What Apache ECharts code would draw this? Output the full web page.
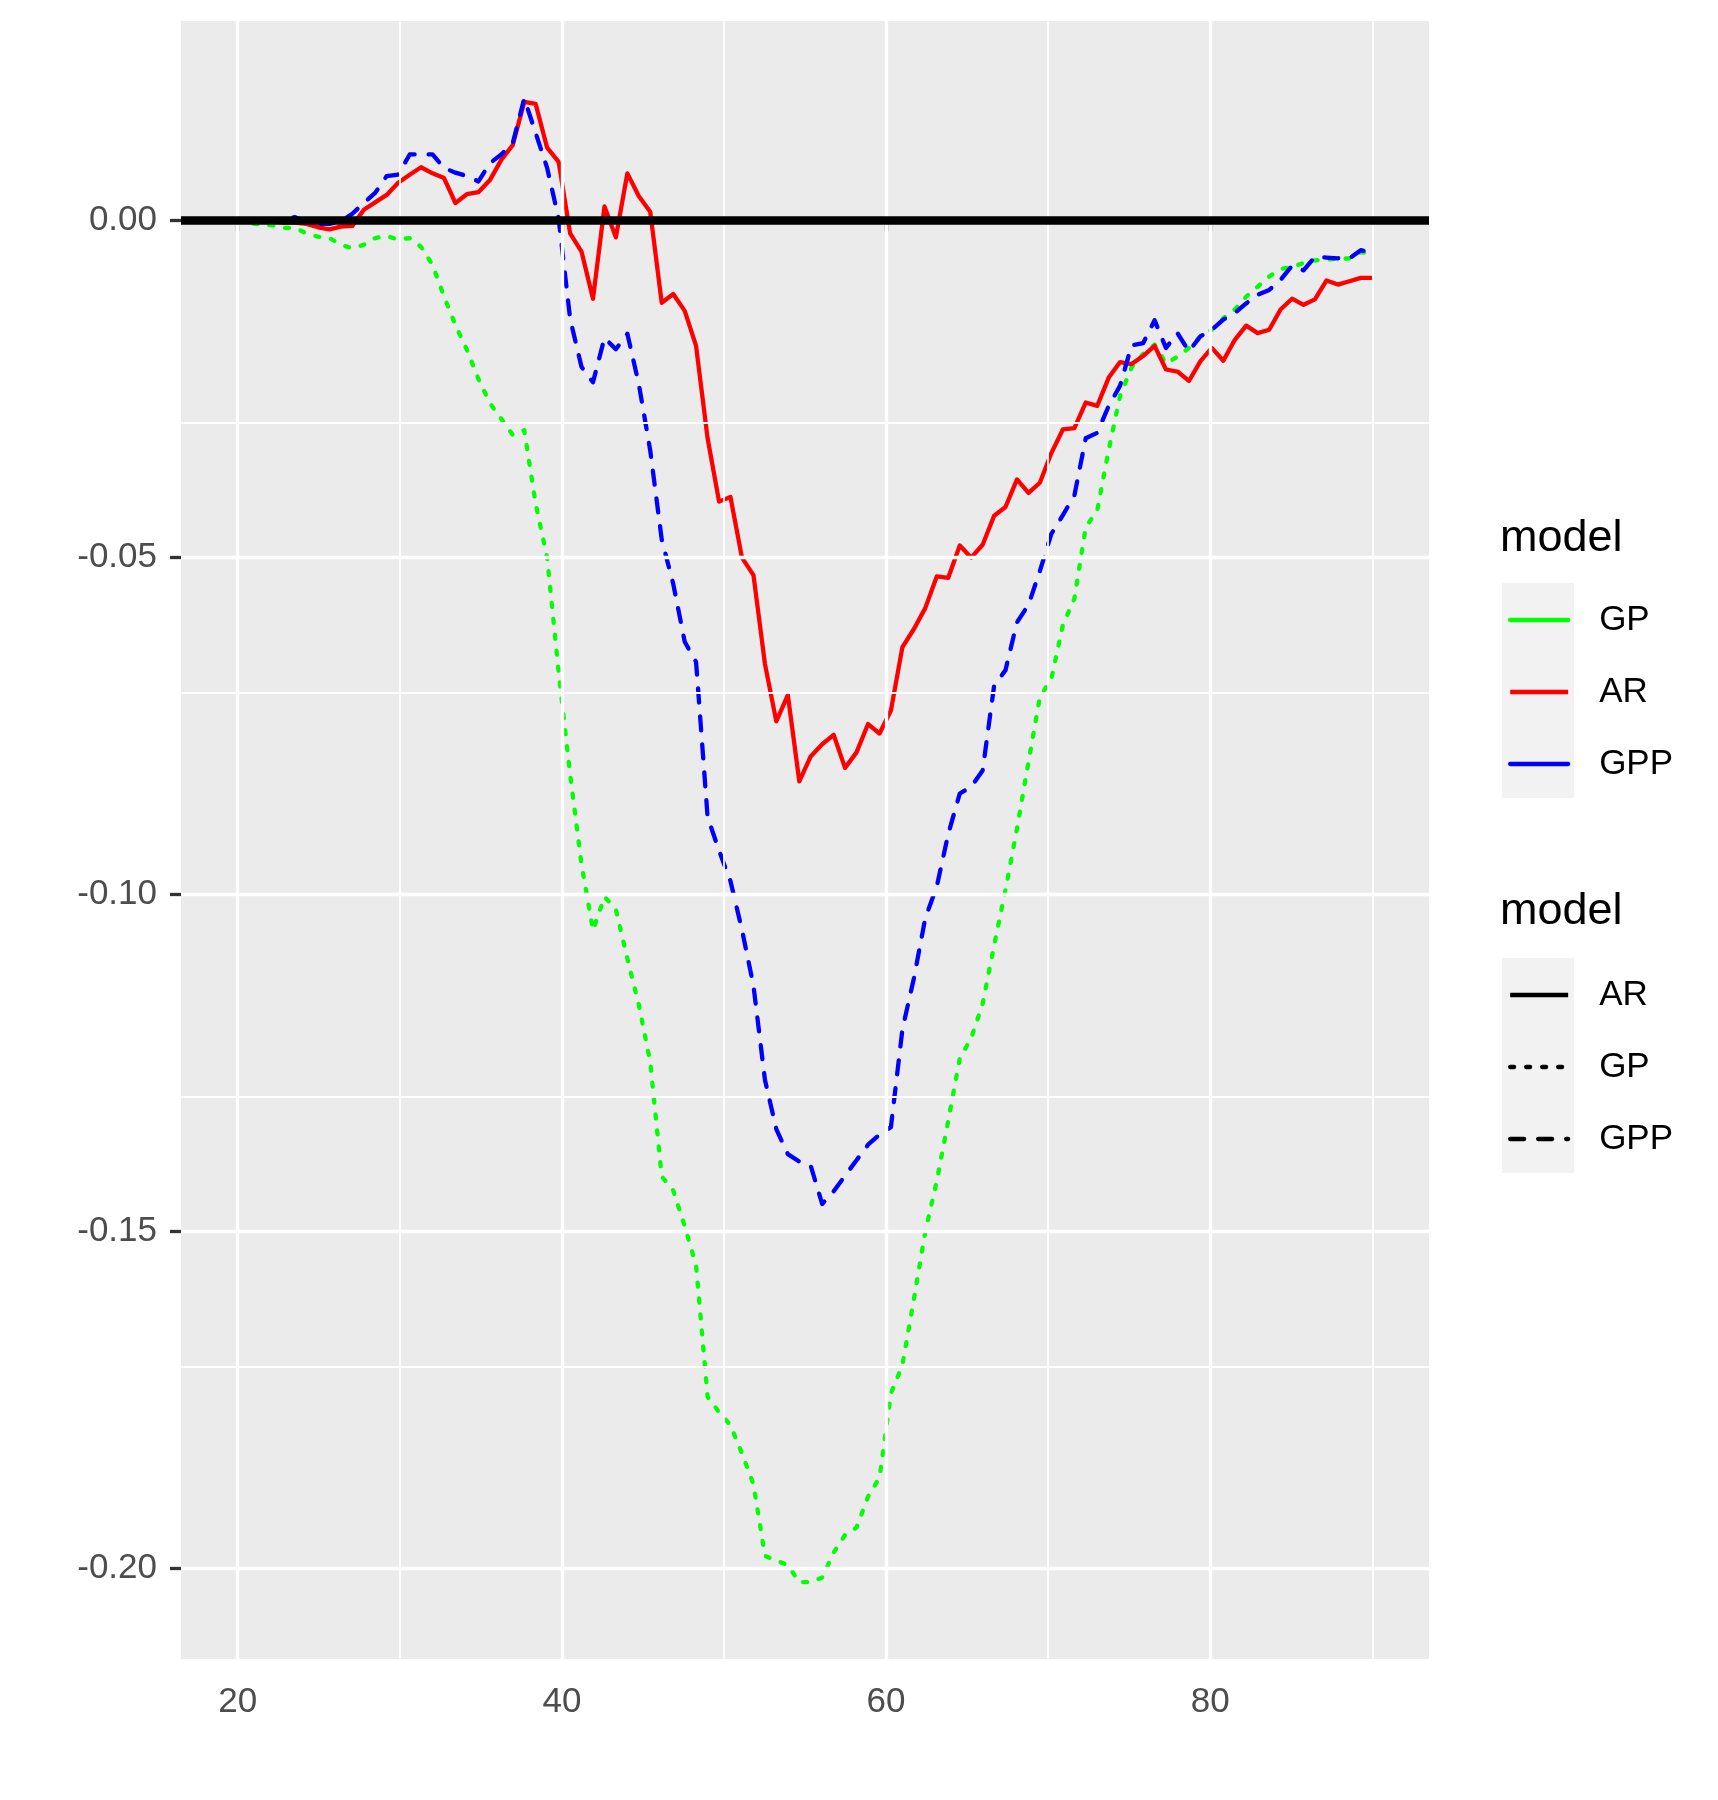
<!DOCTYPE html>
<html>
<head>
<meta charset="utf-8">
<script src="https://cdn.jsdelivr.net/npm/echarts@6.0.0/dist/echarts.min.js"></script>
<style>
  html, body { margin: 0; padding: 0; background: #fff; }
  #main { width: 1718px; height: 1800px; }
</style>
</head>
<body>
<div id="main"></div>
<script>
// age grid (100 points from 20 to 90)
var ages = [
  20.00, 20.71, 21.41, 22.12, 22.83, 23.54, 24.24, 24.95, 25.66, 26.36,
  27.07, 27.78, 28.48, 29.19, 29.90, 30.61, 31.31, 32.02, 32.73, 33.43,
  34.14, 34.85, 35.56, 36.26, 36.97, 37.68, 38.38, 39.09, 39.80, 40.51,
  41.21, 41.92, 42.63, 43.33, 44.04, 44.75, 45.45, 46.16, 46.87, 47.58,
  48.28, 48.99, 49.70, 50.40, 51.11, 51.82, 52.53, 53.23, 53.94, 54.65,
  55.35, 56.06, 56.77, 57.47, 58.18, 58.89, 59.60, 60.30, 61.01, 61.72,
  62.42, 63.13, 63.84, 64.55, 65.25, 65.96, 66.67, 67.37, 68.08, 68.79,
  69.49, 70.20, 70.91, 71.62, 72.32, 73.03, 73.74, 74.44, 75.15, 75.86,
  76.57, 77.27, 77.98, 78.69, 79.39, 80.10, 80.81, 81.52, 82.22, 82.93,
  83.64, 84.34, 85.05, 85.76, 86.46, 87.17, 87.88, 88.59, 89.29, 90.00
]

var gp = [
  0, -0.0004, -0.0006, -0.0007, -0.0011, -0.0011, -0.0019, -0.0024, -0.0026, -0.0036,
  -0.0041, -0.0036, -0.0026, -0.0023, -0.0028, -0.0026, -0.0039, -0.0066, -0.0113, -0.0155,
  -0.0192, -0.0235, -0.0271, -0.0294, -0.0318, -0.0311, -0.0420, -0.0500, -0.0670, -0.0822,
  -0.0955, -0.1053, -0.1003, -0.1022, -0.1095, -0.1164, -0.1248, -0.1418, -0.1439, -0.1492,
  -0.1550, -0.1745, -0.1768, -0.1787, -0.1829, -0.1875, -0.1981, -0.1988, -0.1995, -0.2020,
  -0.2020, -0.2013, -0.1976, -0.1950, -0.1939, -0.1893, -0.1865, -0.1740, -0.1698, -0.1600,
  -0.1500, -0.1425, -0.1335, -0.1243, -0.1213, -0.1162, -0.1075, -0.0993, -0.0902, -0.0803,
  -0.0707, -0.0680, -0.0600, -0.0561, -0.0455, -0.0430, -0.0340, -0.0260, -0.0218, -0.0198,
  -0.0184, -0.0212, -0.0202, -0.0189, -0.0172, -0.0162, -0.0145, -0.0132, -0.0113, -0.0098,
  -0.0083, -0.0072, -0.0069, -0.0063, -0.0059, -0.0058, -0.0057, -0.0056, -0.0047, -0.0049
]

var ar = [
  0, 0, -0.0001, -0.0001, -0.0003, -0.0003, -0.0005, -0.0010, -0.0013, -0.0009,
  -0.0008, 0.0016, 0.0027, 0.0038, 0.0056, 0.0068, 0.0079, 0.0070, 0.0063, 0.0026,
  0.0039, 0.0042, 0.0060, 0.0090, 0.0112, 0.0176, 0.0173, 0.0108, 0.0087, -0.0019,
  -0.0046, -0.0116, 0.0021, -0.0025, 0.0070, 0.0036, 0.0013, -0.0122, -0.0109, -0.0134,
  -0.0186, -0.0323, -0.0417, -0.0410, -0.0500, -0.0526, -0.0658, -0.0743, -0.0704, -0.0832,
  -0.0795, -0.0777, -0.0763, -0.0812, -0.0789, -0.0747, -0.0761, -0.0727, -0.0633, -0.0606,
  -0.0575, -0.0528, -0.0530, -0.0482, -0.0500, -0.0481, -0.0438, -0.0425, -0.0384, -0.0404,
  -0.0389, -0.0345, -0.0310, -0.0308, -0.0270, -0.0275, -0.0233, -0.0210, -0.0213, -0.0201,
  -0.0186, -0.0221, -0.0224, -0.0238, -0.0209, -0.0189, -0.0208, -0.0177, -0.0156, -0.0167,
  -0.0162, -0.0132, -0.0116, -0.0125, -0.0117, -0.0089, -0.0095, -0.0090, -0.0085, -0.0085
]

var gpp = [
  0.0003, 0, -0.0001, 0, 0.0002, 0.0005, -0.0003, -0.0005, -0.0005, -0.0001,
  0.0010, 0.0026, 0.0041, 0.0066, 0.0068, 0.0098, 0.0098, 0.0098, 0.0078, 0.0071,
  0.0066, 0.0058, 0.0085, 0.0098, 0.0115, 0.0181, 0.0130, 0.0078, 0.0003, -0.0146,
  -0.0217, -0.0240, -0.0174, -0.0191, -0.0168, -0.0243, -0.0341, -0.0473, -0.0539, -0.0625,
  -0.0655, -0.0885, -0.0935, -0.0980, -0.1052, -0.1135, -0.1275, -0.1348, -0.1385, -0.1396,
  -0.1402, -0.1459, -0.1440, -0.1417, -0.1394, -0.1371, -0.1356, -0.1345, -0.1200, -0.1124,
  -0.1035, -0.0988, -0.0910, -0.0850, -0.0840, -0.0816, -0.0690, -0.0667, -0.0596, -0.0570,
  -0.0520, -0.0465, -0.0437, -0.0408, -0.0323, -0.0315, -0.0275, -0.0245, -0.0185, -0.0182,
  -0.0148, -0.0189, -0.0167, -0.0194, -0.0172, -0.0162, -0.0147, -0.0137, -0.0123, -0.0110,
  -0.0103, -0.0088, -0.0067, -0.0074, -0.0054, -0.0055, -0.0056, -0.0056, -0.0044, -0.0048
]

var xBreaks = [20, 40, 60, 80]
var xMinor = [30, 50, 70, 90]
var yBreaks = [0, -0.05, -0.1, -0.15, -0.2]
var yMinor = [0.025, -0.025, -0.075, -0.125, -0.175]

var font = 'Liberation Sans, Arial, Helvetica, sans-serif'
var lw = 4.3

function pairs(ys) {
  return ages.map(function (x, i) { return [x, ys[i]] })
}

var gridLines = []
xBreaks.forEach(function (v) { gridLines.push({ xAxis: v, lineStyle: { width: 3.3 } }) })
xMinor.forEach(function (v) { gridLines.push({ xAxis: v, lineStyle: { width: 1.8 } }) })
yBreaks.forEach(function (v) { gridLines.push({ yAxis: v, lineStyle: { width: 3.3 } }) })
yMinor.forEach(function (v) { gridLines.push({ yAxis: v, lineStyle: { width: 1.8 } }) })

var myChart = echarts.init(document.getElementById('main'), null, { renderer: 'canvas' })

var option = {
  animation: false,
  backgroundColor: '#ffffff',
  textStyle: { fontFamily: font },
  title: [
    { text: 'model', left: 1500, top: 516, padding: 0,
      textStyle: { fontSize: 45, fontWeight: 'normal', color: '#000', fontFamily: font } },
    { text: 'model', left: 1500, top: 889, padding: 0,
      textStyle: { fontSize: 45, fontWeight: 'normal', color: '#000', fontFamily: font } }
  ],
  graphic: [
    { type: 'rect', left: 1502, top: 583, shape: { width: 72, height: 215 }, style: { fill: '#F2F2F2' }, z: -1 },
    { type: 'rect', left: 1502, top: 958, shape: { width: 72, height: 215 }, style: { fill: '#F2F2F2' }, z: -1 }
  ],
  legend: [
    {
      orient: 'vertical', left: 1508, top: 602, padding: 0,
      itemWidth: 58, itemHeight: 36, itemGap: 36,
      selectedMode: false,
      itemStyle: { opacity: 0 },
      textStyle: { fontSize: 35, color: '#000', lineHeight: 36, padding: [0, 0, 0, 26], fontFamily: font },
      data: [
        { name: 'GP', lineStyle: { type: 'solid', width: lw, color: '#00FF00' } },
        { name: 'AR', lineStyle: { type: 'solid', width: lw, color: '#FF0000' } },
        { name: 'GPP', lineStyle: { type: 'solid', width: lw, color: '#0000FF' } }
      ]
    },
    {
      orient: 'vertical', left: 1508, top: 977, padding: 0,
      itemWidth: 58, itemHeight: 36, itemGap: 36,
      selectedMode: false,
      itemStyle: { opacity: 0 },
      textStyle: { fontSize: 35, color: '#000', lineHeight: 36, padding: [0, 0, 0, 26], fontFamily: font },
      data: [
        { name: 'AR', lineStyle: { type: 'solid', width: lw, color: '#000' } },
        { name: 'GP', lineStyle: { type: [4, 12], width: lw, color: '#000' } },
        { name: 'GPP', lineStyle: { type: [14, 14], width: lw, color: '#000' } }
      ]
    }
  ],
  grid: {
    left: 181, right: 289, top: 21, bottom: 141,
    show: true, backgroundColor: '#EBEBEB', borderWidth: 0
  },
  xAxis: {
    type: 'value', min: 16.5, max: 93.5,
    axisLine: { show: false },
    splitLine: { show: false },
    axisTick: { show: true, customValues: xBreaks, length: 11, lineStyle: { color: '#333333', width: 3.3 } },
    axisLabel: { customValues: xBreaks, margin: 26, fontSize: 35, color: '#4D4D4D', fontFamily: font }
  },
  yAxis: {
    type: 'value', min: -0.2134, max: 0.0296,
    axisLine: { show: false },
    splitLine: { show: false },
    axisTick: { show: true, customValues: yBreaks, length: 11, lineStyle: { color: '#333333', width: 3.3 } },
    axisLabel: {
      customValues: yBreaks, margin: 24, fontSize: 35, color: '#4D4D4D', fontFamily: font,
      formatter: function (v) { return v.toFixed(2) }
    }
  },
  series: [
    {
      name: 'panel-grid', type: 'line', data: [], z: 1, silent: true,
      markLine: {
        silent: true, symbol: 'none', label: { show: false },
        lineStyle: { color: '#ffffff', type: 'solid' },
        data: gridLines
      }
    },
    {
      name: 'GP', type: 'line', data: pairs(gp), z: 3,
      symbol: 'none', showSymbol: false,
      lineStyle: { color: '#00FF00', width: lw, type: [4, 12], cap: 'round', join: 'round' },
      itemStyle: { color: '#00FF00' }
    },
    {
      name: 'AR', type: 'line', data: pairs(ar), z: 3,
      symbol: 'none', showSymbol: false,
      lineStyle: { color: '#FF0000', width: lw, type: 'solid', join: 'round' },
      itemStyle: { color: '#FF0000' }
    },
    {
      name: 'GPP', type: 'line', data: pairs(gpp), z: 3,
      symbol: 'none', showSymbol: false,
      lineStyle: { color: '#0000FF', width: lw, type: [14, 14], cap: 'round', join: 'round' },
      itemStyle: { color: '#0000FF' }
    },
    {
      name: 'zero', type: 'line', data: [], z: 5, silent: true,
      markLine: {
        silent: true, symbol: 'none', label: { show: false },
        lineStyle: { color: '#000000', width: 8.5, type: 'solid' },
        data: [{ yAxis: 0 }]
      }
    }
  ]
}
myChart.setOption(option)
</script>
</body>
</html>
